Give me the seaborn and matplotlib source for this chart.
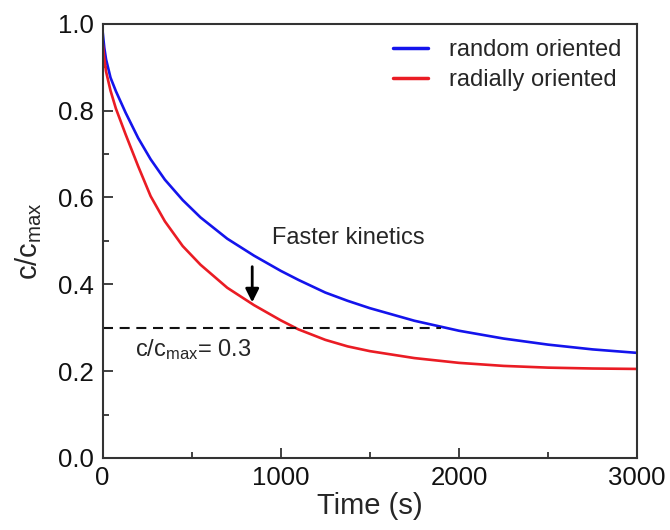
import pandas as pd
import matplotlib.pyplot as plt
import seaborn as sns
from matplotlib.ticker import MultipleLocator

# valores
time_s = [0, 10, 20, 45, 75, 130, 200, 270, 350, 450, 550, 700, 850, 1000,
          1100, 1250, 1375, 1500, 1750, 2000, 2250, 2500, 2750, 3000]
random_oriented = [0.985, 0.945, 0.918, 0.876, 0.845, 0.795, 0.737, 0.688, 0.641, 0.594,
                   0.554, 0.505, 0.466, 0.431, 0.41, 0.381, 0.362, 0.345, 0.316, 0.293,
                   0.275, 0.261, 0.25, 0.242]
radially_oriented = [0.96, 0.92, 0.89, 0.846, 0.805, 0.745, 0.672, 0.603, 0.545, 0.488,
                     0.445, 0.392, 0.352, 0.317, 0.296, 0.272, 0.257, 0.246, 0.23, 0.219,
                     0.212, 0.208, 0.206, 0.205]
threshold = 0.3
threshold_end = 1900

df = pd.DataFrame({
    'Time (s)': time_s * 2,
    'c': random_oriented + radially_oriented,
    'sample': ['random oriented'] * len(time_s) + ['radially oriented'] * len(time_s),
})

sns.set_style("ticks")
plt.rcParams['font.family'] = ['Liberation Sans', 'DejaVu Sans']
plt.rcParams['mathtext.fontset'] = 'custom'
plt.rcParams['mathtext.rm'] = 'Liberation Sans'
plt.rcParams['mathtext.it'] = 'Liberation Sans'

fig = plt.figure(figsize=(6.7, 5.3), dpi=100)
ax = fig.add_axes([0.153, 0.136, 0.798, 0.819])

sns.lineplot(data=df, x='Time (s)', y='c', hue='sample',
             palette={'random oriented': '#1414ec', 'radially oriented': '#ea1c24'},
             linewidth=1.9, ax=ax)

ax.plot([0, threshold_end], [threshold, threshold], color='#111111',
        dashes=(4.8, 3.2), linewidth=1.5)
ax.text(185, 0.249, r'c/c$_{\mathrm{max}}$= 0.3', fontsize=17, ha='left', va='center')
ax.text(950, 0.507, 'Faster kinetics', fontsize=17, ha='left', va='center')
ax.annotate('', xy=(840, 0.352), xytext=(840, 0.447),
            arrowprops=dict(arrowstyle='-|>', color='black', lw=2, mutation_scale=20))

ax.set_xlim(0, 3000)
ax.set_ylim(0, 1.0)
ax.xaxis.set_major_locator(MultipleLocator(1000))
ax.xaxis.set_minor_locator(MultipleLocator(500))
ax.yaxis.set_major_locator(MultipleLocator(0.2))
ax.yaxis.set_minor_locator(MultipleLocator(0.1))
ax.tick_params(which='major', direction='in', length=7, width=1.3, labelsize=18.5,
               colors='#333333', labelcolor='#111111', pad=6)
ax.tick_params(which='minor', direction='in', length=4, width=1.3, colors='#333333')
ax.set_yticks([0, 0.2, 0.4, 0.6, 0.8, 1.0])
ax.set_yticklabels(['0.0', '0.2', '0.4', '0.6', '0.8', '1.0'])

for s in ax.spines.values():
    s.set_visible(True)
    s.set_linewidth(1.5)
    s.set_color('#333333')

ax.set_xlabel('Time (s)', fontsize=21, labelpad=1)
ax.set_ylabel(r'c/c$_{\mathrm{max}}$', fontsize=21, labelpad=10)

leg = ax.legend(loc='upper right', frameon=False, fontsize=17, handlelength=1.5,
                handletextpad=0.9, borderaxespad=0.25, labelspacing=0.35)
for line in leg.get_lines():
    line.set_linewidth(2.5)

fig.savefig('out.png', dpi=100)
